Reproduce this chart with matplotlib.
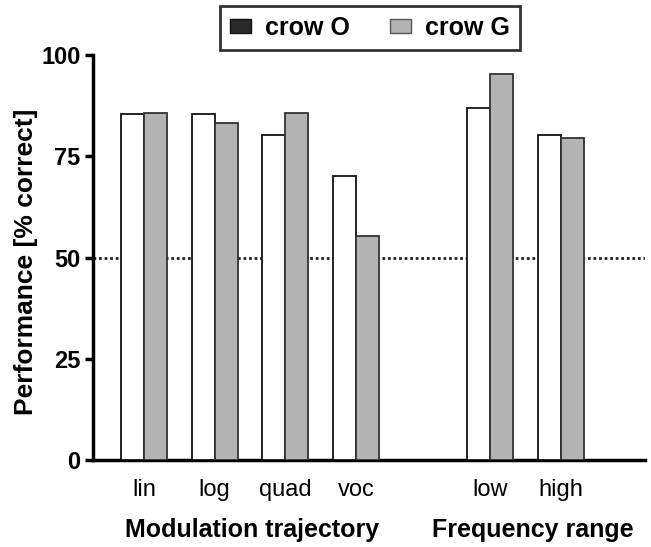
import matplotlib.pyplot as plt
from matplotlib.patches import Patch

# data
cats = ['lin', 'log', 'quad', 'voc', 'low', 'high']
pos = [0, 1, 2, 3, 4.9, 5.9]
crow_o = [85.4, 85.4, 80.4, 70.2, 87.0, 80.4]
crow_g = [85.7, 83.2, 85.7, 55.4, 95.4, 79.6]
chance = 50

plt.rcParams['font.family'] = ['Liberation Sans', 'DejaVu Sans']

fig = plt.figure(figsize=(6.51, 5.47), dpi=100)
ax = fig.add_axes([0.143, 0.159, 0.848, 0.74])

w = 0.325
ax.bar([p - w / 2 for p in pos], crow_o, w, color='white', edgecolor='#111111', linewidth=1.3, zorder=3)
ax.bar([p + w / 2 for p in pos], crow_g, w, color='#b3b3b3', edgecolor='#333333', linewidth=1.3, zorder=3)
ax.axhline(chance, color='#222222', linestyle=(0, (1, 1)), linewidth=2, zorder=2)

ax.set_xlim(-0.72, 7.09)
ax.set_ylim(0, 100)
ax.set_yticks([0, 25, 50, 75, 100])
ax.set_xticks(pos)
ax.set_xticklabels(cats, fontsize=17)
for t in ax.get_yticklabels():
    t.set_fontweight('bold')
    t.set_fontsize(17)
ax.tick_params(axis='x', length=0, pad=14)
ax.tick_params(axis='y', length=6, width=2.5, direction='out', pad=3)
ax.spines['top'].set_visible(False)
ax.spines['right'].set_visible(False)
ax.spines['left'].set_linewidth(2.5)
ax.spines['bottom'].set_linewidth(2.5)
ax.set_ylabel('Performance [% correct]', fontsize=19, fontweight='bold', va='center')
ax.yaxis.set_label_coords(-0.121, 0.49)

fig.text(252 / 651, 1 - 530 / 547, 'Modulation trajectory', ha='center', va='center', fontsize=18, fontweight='bold')
fig.text(533 / 651, 1 - 530 / 547, 'Frequency range', ha='center', va='center', fontsize=18, fontweight='bold')

handles = [Patch(facecolor='#2b2b2b', edgecolor='#111111', label='crow O'),
           Patch(facecolor='#b3b3b3', edgecolor='#555555', label='crow G')]
leg = fig.legend(handles=handles, loc='center', bbox_to_anchor=(0.568, 0.949), ncol=2,
                 frameon=True, fancybox=False, prop={'weight': 'bold', 'size': 18},
                 handlelength=0.85, handleheight=0.48, handletextpad=0.56,
                 columnspacing=1.6, borderpad=0.4)
leg.get_frame().set_edgecolor('black')
leg.get_frame().set_linewidth(2)

fig.savefig('out.png', dpi=100)
